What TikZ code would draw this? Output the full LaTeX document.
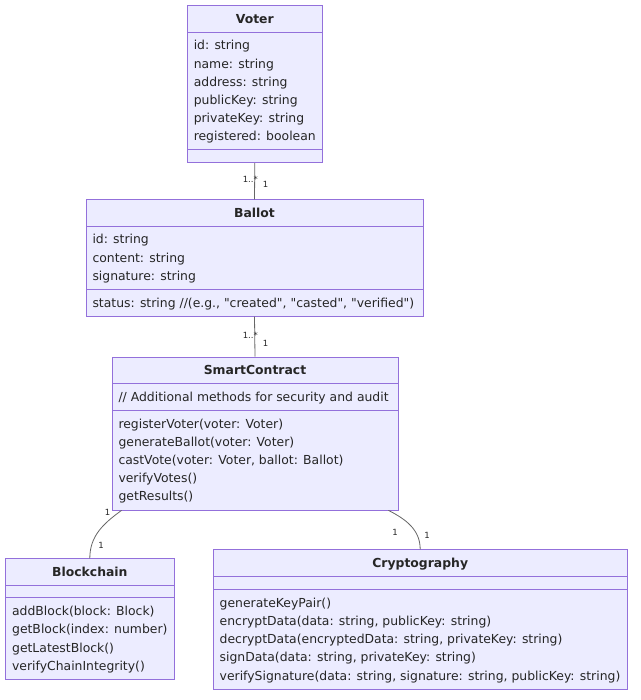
\documentclass[tikz,border=0pt]{standalone}
\usepackage{fontspec}
\setmainfont{DejaVu Sans}
\usetikzlibrary{shapes.multipart}
\definecolor{ClassFill}{HTML}{ECECFF}
\definecolor{ClassBorder}{HTML}{9370DB}
\definecolor{EdgeGray}{HTML}{333333}
\newcommand{\classFont}{\fontsize{12.4}{18.2}\selectfont}
\newcommand{\multFont}{\fontsize{8.5}{10}\selectfont}
\newcommand{\ls}{\rule[-2pt]{0pt}{13.5pt}}
\newcommand{\nopart}{\rule{0.1pt}{0pt}}
\newcommand{\q}{\textquotedbl}

\begin{document}
\begin{tikzpicture}[x=1pt,y=1pt,
  umlclass/.style={rectangle split,rectangle split parts=3,rectangle split ignore empty parts=false,
    rectangle split part align={center,left,left},rectangle split empty part height=0.1pt,
    rectangle split empty part depth=0.1pt,draw=ClassBorder,fill=ClassFill,line width=0.8pt,
    align=left,anchor=north,inner xsep=6.5pt,inner ysep=6pt,font=\classFont,text=black!85},
  assoc/.style={draw=EdgeGray!75,line width=0.8pt},
  mult/.style={font=\multFont,text=black!85,inner sep=0pt}]
    \useasboundingbox (0,0) rectangle (640,700);
    \node[umlclass,minimum width=135pt] (voter) at (254.8,694.7) {\ls\textbf{Voter}
      \nodepart{two}\ls id: string\\ name: string\\ address: string\\ publicKey: string\\ privateKey: string\\ registered: boolean\ls
      \nodepart{three}\nopart};
    \node[umlclass,minimum width=337pt] (ballot) at (254.5,500.7) {\ls\textbf{Ballot}
      \nodepart{two}\ls id: string\\ content: string\\ signature: string\ls
      \nodepart{three}\ls status: string //(e.g., \q created\q, \q casted\q, \q verified\q)};
    \node[umlclass,minimum width=286pt] (contract) at (255,343.3) {\ls\textbf{SmartContract}
      \nodepart{two}\ls // Additional methods for security and audit
      \nodepart{three}\ls registerVoter(voter: Voter)\\ generateBallot(voter: Voter)\\ castVote(voter: Voter, ballot: Ballot)\\ verifyVotes()\\ getResults()\ls};
    \node[umlclass,minimum width=168pt] (chain) at (89.8,141.7) {\ls\textbf{Blockchain}
      \nodepart{two}\nopart
      \nodepart{three}\ls addBlock(block: Block)\\ getBlock(index: number)\\ getLatestBlock()\\ verifyChainIntegrity()\ls};
    \node[umlclass,minimum width=414pt] (crypto) at (420.2,150.7) {\ls\textbf{Cryptography}
      \nodepart{two}\nopart
      \nodepart{three}\ls generateKeyPair()\\ encryptData(data: string, publicKey: string)\\ decryptData(encryptedData: string, privateKey: string)\\ signData(data: string, privateKey: string)\\ verifySignature(data: string, signature: string, publicKey: string)\ls};
    \draw[assoc] (voter.south) -- (ballot.north);
    \draw[assoc] (ballot.south) -- (contract.north);
    \draw[assoc] ([xshift=10pt]contract.south west) to[out=216,in=90] (chain.north);
    \draw[assoc] ([xshift=-10pt]contract.south east) to[out=-27,in=90] (crypto.north);
    \node[mult] (vb1) at (250.3,521) {1..*};
    \node[mult] (vb2) at (265.5,515.5) {1};
    \node[mult] (bs1) at (250.3,365) {1..*};
    \node[mult] (bs2) at (265.5,357) {1};
    \node[mult] (sb1) at (107.5,188) {1};
    \node[mult] (sb2) at (101,155) {1};
    \node[mult] (sc1) at (395,168) {1};
    \node[mult] (sc2) at (427,165) {1};
\end{tikzpicture}
\end{document}
